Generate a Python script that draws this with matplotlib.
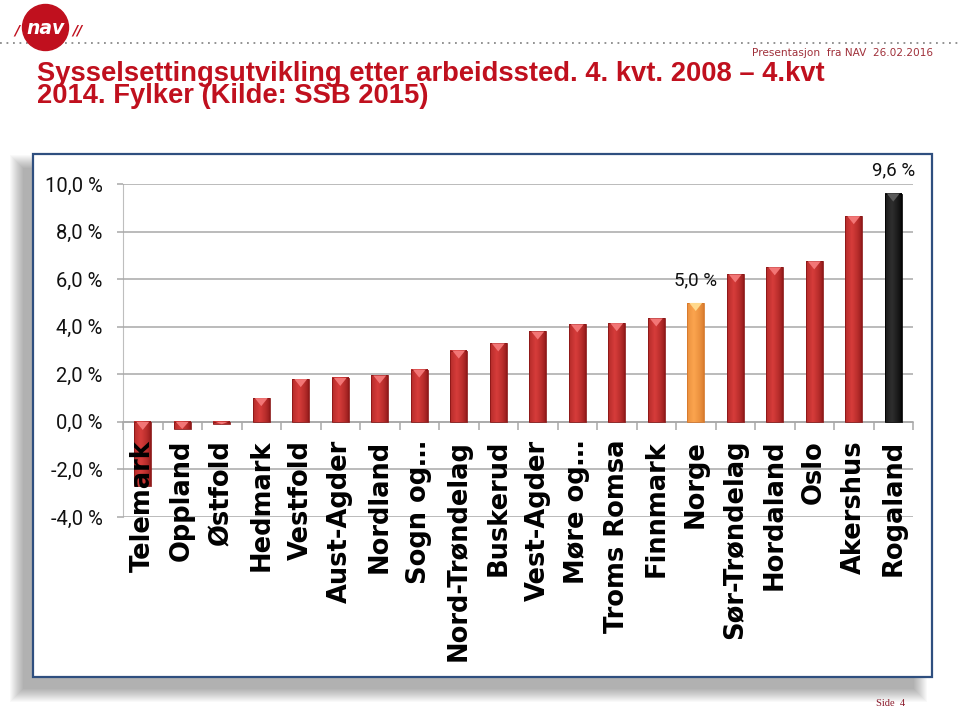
import numpy as np
import matplotlib.pyplot as plt
from matplotlib.patches import Rectangle, Circle
from matplotlib.colors import to_rgb
from matplotlib.ticker import FuncFormatter, MultipleLocator

# data: employment growth by workplace, Q4 2008 - Q4 2014
fylker = ["Telemark", "Oppland", "Østfold", "Hedmark", "Vestfold", "Aust-Agder",
          "Nordland", "Sogn og…", "Nord-Trøndelag", "Buskerud", "Vest-Agder",
          "Møre og…", "Troms Romsa", "Finnmark", "Norge", "Sør-Trøndelag",
          "Hordaland", "Oslo", "Akershus", "Rogaland"]
endring = [-2.7, -0.3, -0.1, 1.0, 1.8, 1.85, 1.95, 2.2, 3.0, 3.3, 3.8,
           4.1, 4.15, 4.35, 5.0, 6.2, 6.5, 6.75, 8.65, 9.6]
merket = ["Norge", "Rogaland"]   # bars with value labels

title_lines = ["Sysselsettingsutvikling etter arbeidssted. 4. kvt. 2008 – 4.kvt",
               "2014. Fylker (Kilde: SSB 2015)"]
undertekst = "Presentasjon  fra NAV  26.02.2016"
side = "Side  4"

W, H = 960, 711
NAVRED = "#C0101E"

# farger: (mørk kant, lys midte, trekant)
def bar_style(name):
    if name == "Norge":
        return "#D5772A", "#FBA44E", "#FFD98C"
    if name == "Rogaland":
        return "#000000", "#2E2E2E", "#5A5A5A"
    return "#8A1616", "#D63C3A", "#F27676"

def pct(v):
    return f"{v:.1f}".replace(".", ",") + " %"

fig = plt.figure(figsize=(W / 100, H / 100), dpi=100)
fig.patch.set_facecolor("white")

# bakgrunn i pikselkoordinater
bg = fig.add_axes([0, 0, 1, 1], zorder=0)
bg.set_xlim(0, W)
bg.set_ylim(H, 0)
bg.axis("off")

# skygge bak rammen
fx0, fy0, fx1, fy1 = 33, 154, 932, 677
for k in range(14):
    bg.add_patch(Rectangle((fx0 - 10 - k, fy0 + 14 - k), (fx1 - fx0) + 2 * k - 8,
                           (fy1 - fy0) + 2 * k - 2, facecolor="black", edgecolor="none",
                           alpha=0.025))
bg.add_patch(Rectangle((fx0, fy0), fx1 - fx0, fy1 - fy0, facecolor="white",
                       edgecolor="#2F4F7F", lw=1.6))

# NAV-logo og stiplet linje
bg.plot([0, W], [43, 43], color="#8A8A8A", lw=1.3, linestyle=(0, (1, 2.6)))
bg.add_patch(Circle((45.5, 27.5), 23, color=NAVRED, zorder=3))
bg.text(45.5, 29, "nav", color="white", fontsize=13.5, fontweight="bold",
        style="italic", ha="center", va="center", zorder=4)
bg.text(17, 31, "/", color=NAVRED, fontsize=10, fontweight="bold",
        style="italic", ha="center", va="center")
bg.text(77, 31, "//", color=NAVRED, fontsize=10, fontweight="bold",
        style="italic", ha="center", va="center")

# tittel (to linjer i én tekst, tett linjeavstand; baseline = siste linje)
bg.text(37, 103, "\n".join(title_lines), color=NAVRED, fontsize=19.7,
        fontweight="bold", family="Liberation Sans", ha="left", va="baseline",
        linespacing=0.82)
bg.text(933, 56, undertekst, color="#A0303A", fontsize=7.6, family="DejaVu Sans",
        ha="right", va="baseline")
bg.text(905, 706, side, color="#8B1A2B", fontsize=7.5, family="Liberation Serif",
        ha="right", va="baseline")

# diagram
ax = fig.add_axes([123 / W, 1 - 517 / H, 790 / W, 333 / H], zorder=1)
ax.patch.set_alpha(0)
x = np.arange(len(fylker))
bars = ax.bar(x, endring, width=0.43, color="none", zorder=2)

nfont = "Roboto"
for b, name, v in zip(bars, fylker, endring):
    dark, light, tri = bar_style(name)
    d, l = np.array(to_rgb(dark)), np.array(to_rgb(light))
    t = np.linspace(0, 1, 60)
    f = np.clip(1 - np.abs(t - 0.4) / 0.6, 0, 1) ** 0.6
    row = d[None, :] + (l - d)[None, :] * f[:, None]
    img = np.repeat(row[None, :, :], 2, axis=0)
    x0, w = b.get_x(), b.get_width()
    y0, h = b.get_y(), b.get_height()
    ax.imshow(img, extent=[x0, x0 + w, y0, y0 + h], aspect="auto", zorder=2,
              interpolation="bilinear")
    ax.add_patch(Rectangle((x0, y0), w, h, facecolor="none", edgecolor=dark,
                           lw=0.6, zorder=2.1))
    top = max(y0, y0 + h)
    th = min(0.34, abs(h))
    ax.fill([x0 + 0.12 * w, x0 + 0.88 * w, x0 + 0.5 * w], [top, top, top - th],
            color=tri, zorder=2.2, lw=0)
    if name in merket:
        ax.annotate(pct(v), (x0 + w / 2, top),
                    xytext=(0, 10), textcoords="offset points", ha="center",
                    va="bottom", fontsize=13.5, family=nfont, color="#111111",
                    annotation_clip=False)

ax.set_xlim(-0.5, len(fylker) - 0.5)
ax.set_ylim(-4, 10)
ax.yaxis.set_major_locator(MultipleLocator(2))
ax.yaxis.set_major_formatter(FuncFormatter(lambda v, p: pct(v)))
ax.grid(axis="y", color="#A8A8A8", lw=1.1)
ax.set_axisbelow(True)
ax.xaxis.set_zorder(5)

for s in ["top", "right"]:
    ax.spines[s].set_visible(False)
ax.spines["left"].set_color("#BEBEBE")
ax.spines["left"].set_zorder(0.5)
ax.spines["bottom"].set_position(("data", 0))
ax.spines["bottom"].set_color("#A8A8A8")
ax.spines["bottom"].set_linewidth(1.1)
ax.spines["bottom"].set_zorder(1.5)

ax.tick_params(axis="y", length=4.5, color="#A8A8A8", width=1.1, pad=10,
               labelsize=14.5, labelcolor="#111111")
for lab in ax.get_yticklabels():
    lab.set_family(nfont)

ax.set_xticks(x)
ax.set_xticklabels(fylker, rotation=90, fontsize=18.5, fontweight="bold",
                   family="DejaVu Sans", va="top", ha="center")
ax.set_xticks(np.arange(len(fylker) + 1) - 0.5, minor=True)
ax.tick_params(axis="x", which="major", length=0, pad=13)
ax.tick_params(axis="x", which="minor", length=6, color="#A8A8A8", width=1.1)

fig.savefig("out.png", dpi=100)
